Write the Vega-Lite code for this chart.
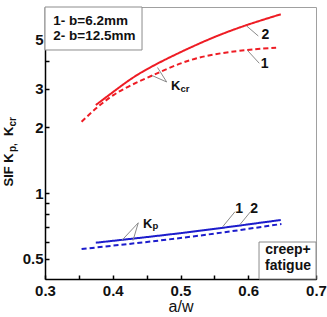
{
  "$schema": "https://vega.github.io/schema/vega-lite/v6.json",
  "width": 271,
  "height": 272,
  "autosize": {"type": "none"},
  "padding": {"left": 45, "top": 7, "right": 11, "bottom": 38},
  "background": "white",
  "config": {"view": {"stroke": "#a0a0a0", "strokeWidth": 1}, "font": "Liberation Sans"},
  "datasets": {
    "curves": [
      {"series": "Kcr", "b": "1", "x": 0.354, "y": 2.116},
      {"series": "Kcr", "b": "1", "x": 0.401, "y": 2.80},
      {"series": "Kcr", "b": "1", "x": 0.4575, "y": 3.432},
      {"series": "Kcr", "b": "1", "x": 0.524, "y": 4.122},
      {"series": "Kcr", "b": "1", "x": 0.598, "y": 4.498},
      {"series": "Kcr", "b": "1", "x": 0.642, "y": 4.609},
      {"series": "Kcr", "b": "2", "x": 0.375, "y": 2.522},
      {"series": "Kcr", "b": "2", "x": 0.411, "y": 3.058},
      {"series": "Kcr", "b": "2", "x": 0.455, "y": 3.74},
      {"series": "Kcr", "b": "2", "x": 0.534, "y": 4.908},
      {"series": "Kcr", "b": "2", "x": 0.598, "y": 5.848},
      {"series": "Kcr", "b": "2", "x": 0.648, "y": 6.546},
      {"series": "Kp", "b": "1", "x": 0.354, "y": 0.555},
      {"series": "Kp", "b": "1", "x": 0.509, "y": 0.628},
      {"series": "Kp", "b": "1", "x": 0.649, "y": 0.722},
      {"series": "Kp", "b": "2", "x": 0.375, "y": 0.593},
      {"series": "Kp", "b": "2", "x": 0.509, "y": 0.661},
      {"series": "Kp", "b": "2", "x": 0.648, "y": 0.753}
    ],
    "boxes": [
      {"x": 0.3, "x2": 0.4432, "y": 7.068, "y2": 4.498},
      {"x": 0.6159, "x2": 0.7, "y": 0.5974, "y2": 0.4049}
    ],
    "leaders": [
      {"x": 0.6148, "y": 5.212, "x2": 0.5977, "y2": 5.788},
      {"x": 0.6163, "y": 3.910, "x2": 0.5992, "y2": 4.465},
      {"x": 0.4796, "y": 3.213, "x2": 0.4661, "y2": 3.742},
      {"x": 0.4796, "y": 3.213, "x2": 0.4579, "y2": 3.440},
      {"x": 0.4377, "y": 0.7312, "x2": 0.4132, "y2": 0.6068},
      {"x": 0.4377, "y": 0.7312, "x2": 0.4299, "y2": 0.6068},
      {"x": 0.5804, "y": 0.8214, "x2": 0.5623, "y2": 0.7018},
      {"x": 0.6033, "y": 0.8214, "x2": 0.5878, "y2": 0.7180}
    ],
    "texts": [
      {"kind": "num", "label": "2", "x": 0.6252, "y": 5.032},
      {"kind": "num", "label": "1", "x": 0.6243, "y": 3.722},
      {"kind": "num", "label": "1", "x": 0.5866, "y": 0.8103},
      {"kind": "num", "label": "2", "x": 0.6088, "y": 0.8103},
      {"kind": "legend", "label": "1- b=6.2mm", "x": 0.3123, "y": 5.848},
      {"kind": "legend", "label": "2- b=12.5mm", "x": 0.3123, "y": 4.995},
      {"kind": "box", "label": "creep+", "x": 0.6587, "y": 0.5249},
      {"kind": "box", "label": "fatigue", "x": 0.6587, "y": 0.4465},
      {"kind": "K", "label": "K", "x": 0.486, "y": 2.953},
      {"kind": "sub", "label": "cr", "x": 0.50, "y": 2.892},
      {"kind": "K", "label": "K", "x": 0.4446, "y": 0.692},
      {"kind": "sub", "label": "p", "x": 0.4587, "y": 0.6814},
      {"kind": "title", "label": "SIF K", "x": 0.2528, "y": 1.0707},
      {"kind": "titlesub", "label": "p,", "x": 0.2579, "y": 1.5391},
      {"kind": "title", "label": "K", "x": 0.2528, "y": 1.8205},
      {"kind": "titlesub", "label": "cr", "x": 0.2579, "y": 2.0104}
    ]
  },
  "encoding": {
    "x": {
      "field": "x",
      "type": "quantitative",
      "scale": {"domain": [0.3, 0.7], "nice": false, "zero": false},
      "axis": {
        "values": [0.3, 0.35, 0.4, 0.45, 0.5, 0.55, 0.6, 0.65, 0.7],
        "labelExpr": "round(datum.value*100) % 10 == 0 ? format(datum.value, '.1f') : ''",
        "grid": false,
        "domainColor": "#000",
        "domainWidth": 1.5,
        "tickColor": "#000",
        "tickWidth": 1.5,
        "tickSize": -4,
        "labelPadding": 8,
        "labelFont": "Liberation Sans",
        "labelFontSize": 15,
        "labelFontWeight": "bold",
        "labelColor": "#111",
        "labelFlush": false,
        "labelOverlap": false,
        "title": "a/w",
        "titleFont": "Liberation Sans",
        "titleFontSize": 16,
        "titleFontWeight": "normal",
        "titleColor": "#111",
        "titlePadding": 0
      }
    },
    "y": {
      "field": "y",
      "type": "quantitative",
      "scale": {"type": "log", "domain": [0.4049, 7.068], "nice": false},
      "axis": {
        "values": [0.5, 0.6, 0.7, 0.8, 0.9, 1, 2, 3, 4, 5, 6],
        "labelExpr": "datum.value == 0.5 ? '0.5' : (datum.value == 1 || datum.value == 2 || datum.value == 3 || datum.value == 5) ? format(datum.value, 'd') : ''",
        "grid": false,
        "domainColor": "#000",
        "domainWidth": 1.5,
        "tickColor": "#000",
        "tickWidth": 1.5,
        "tickSize": -4,
        "labelPadding": 6,
        "labelFont": "Liberation Sans",
        "labelFontSize": 15,
        "labelFontWeight": "bold",
        "labelColor": "#111",
        "labelOverlap": false,
        "labelFlush": false,
        "title": null
      }
    }
  },
  "layer": [
    {
      "data": {"name": "boxes"},
      "mark": {"type": "rect", "fill": "white", "stroke": "#8c8c8c", "strokeWidth": 1},
      "encoding": {"x2": {"field": "x2"}, "y2": {"field": "y2"}}
    },
    {
      "data": {"name": "curves"},
      "mark": {"type": "line", "interpolate": "natural", "strokeWidth": 2},
      "encoding": {
        "color": {"field": "series", "type": "nominal", "scale": {"domain": ["Kcr", "Kp"], "range": ["#ee1c24", "#1c1ccc"]}, "legend": null},
        "strokeDash": {"field": "b", "type": "nominal", "scale": {"domain": ["1", "2"], "range": [[5, 3], [1, 0]]}, "legend": null},
        "order": {"field": "x", "type": "quantitative"}
      }
    },
    {
      "data": {"name": "leaders"},
      "mark": {"type": "rule", "color": "#8a8a8a", "strokeWidth": 1},
      "encoding": {"x2": {"field": "x2"}, "y2": {"field": "y2"}}
    },
    {
      "data": {"name": "texts"},
      "transform": [{"filter": "datum.kind === 'num'"}],
      "mark": {"type": "text", "font": "Liberation Sans", "fontSize": 14, "fontWeight": "bold", "color": "#111", "align": "center", "baseline": "alphabetic"},
      "encoding": {"text": {"field": "label"}}
    },
    {
      "data": {"name": "texts"},
      "transform": [{"filter": "datum.kind === 'legend'"}],
      "mark": {"type": "text", "font": "Liberation Sans", "fontSize": 13.5, "fontWeight": "bold", "color": "#111", "align": "left", "baseline": "alphabetic"},
      "encoding": {"text": {"field": "label"}}
    },
    {
      "data": {"name": "texts"},
      "transform": [{"filter": "datum.kind === 'box'"}],
      "mark": {"type": "text", "font": "Liberation Sans", "fontSize": 14, "fontWeight": "bold", "color": "#111", "align": "center", "baseline": "alphabetic"},
      "encoding": {"text": {"field": "label"}}
    },
    {
      "data": {"name": "texts"},
      "transform": [{"filter": "datum.kind === 'K'"}],
      "mark": {"type": "text", "font": "Liberation Sans", "fontSize": 13, "fontWeight": "bold", "color": "#111", "align": "left", "baseline": "alphabetic"},
      "encoding": {"text": {"field": "label"}}
    },
    {
      "data": {"name": "texts"},
      "transform": [{"filter": "datum.kind === 'sub'"}],
      "mark": {"type": "text", "font": "Liberation Sans", "fontSize": 9.5, "fontWeight": "bold", "color": "#111", "align": "left", "baseline": "alphabetic"},
      "encoding": {"text": {"field": "label"}}
    },
    {
      "data": {"name": "texts"},
      "transform": [{"filter": "datum.kind === 'title'"}],
      "mark": {"type": "text", "font": "Liberation Sans", "fontSize": 13, "fontWeight": "bold", "color": "#111", "align": "left", "baseline": "alphabetic", "angle": 270},
      "encoding": {"text": {"field": "label"}}
    },
    {
      "data": {"name": "texts"},
      "transform": [{"filter": "datum.kind === 'titlesub'"}],
      "mark": {"type": "text", "font": "Liberation Sans", "fontSize": 10, "fontWeight": "bold", "color": "#111", "align": "left", "baseline": "alphabetic", "angle": 270},
      "encoding": {"text": {"field": "label"}}
    }
  ]
}
